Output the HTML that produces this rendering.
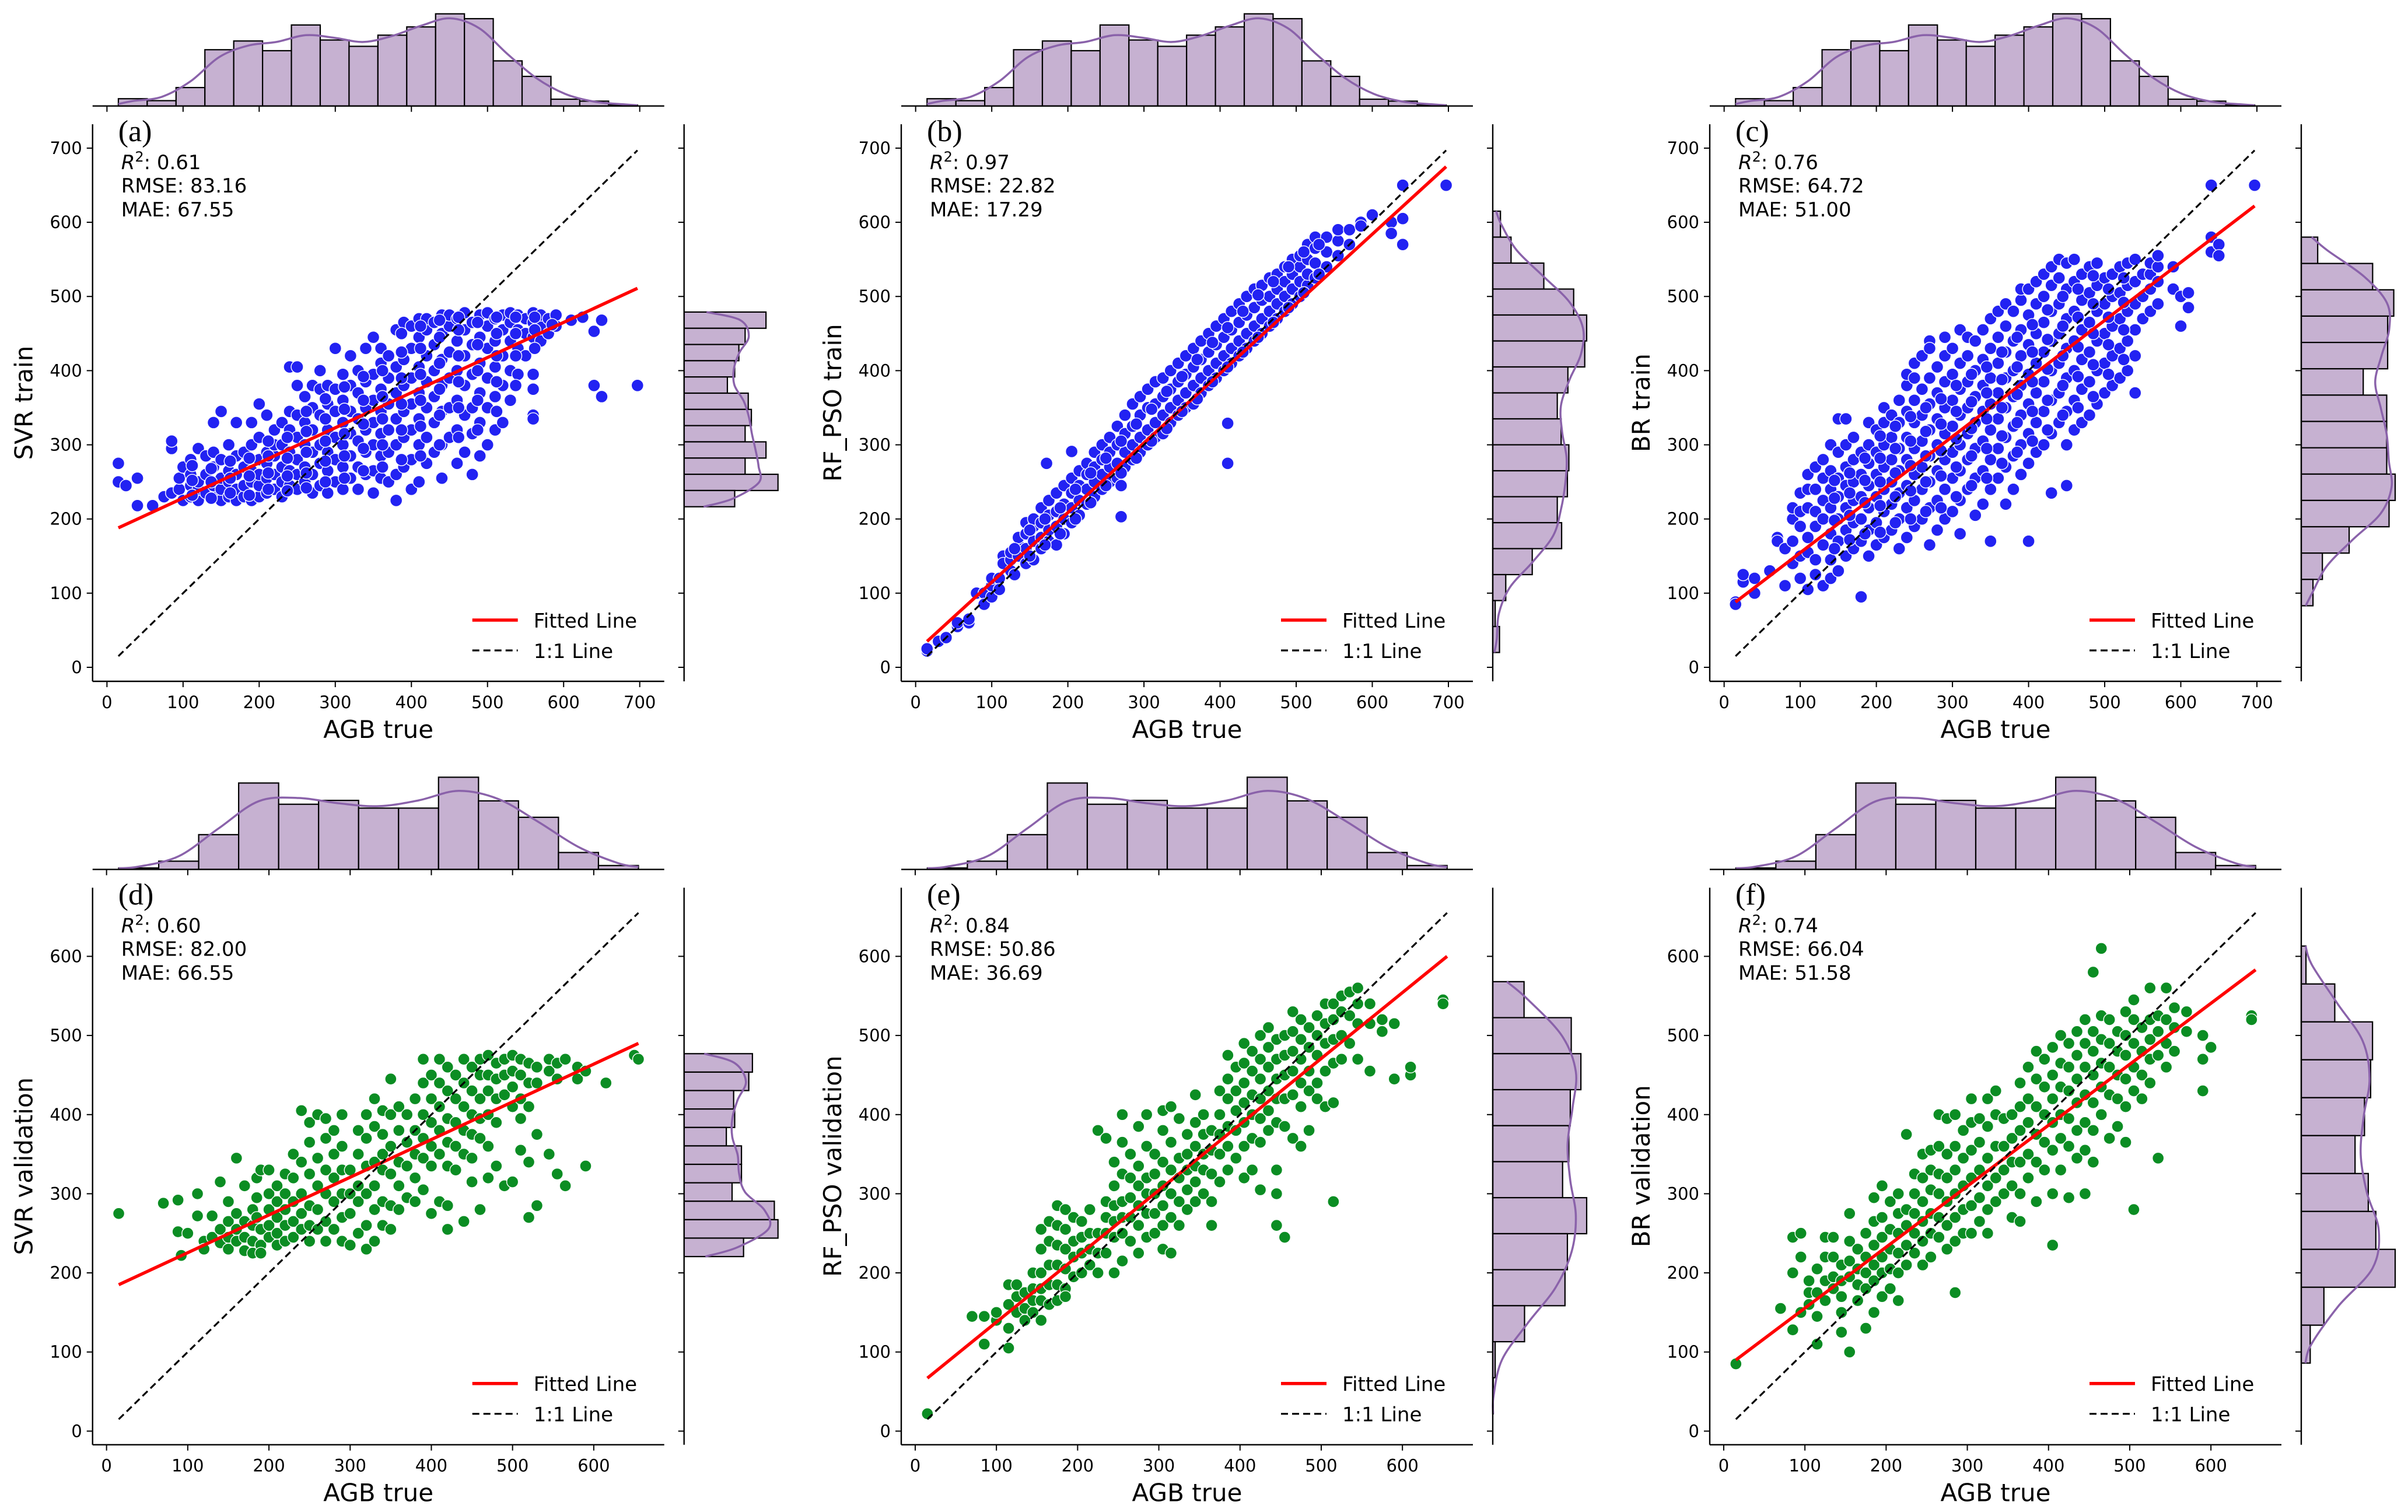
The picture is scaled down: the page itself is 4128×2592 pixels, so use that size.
<!DOCTYPE html>
<html><head><meta charset="utf-8"><style>
html,body{margin:0;padding:0;background:#fff;}
svg{display:block;}
text{font-family:"DejaVu Sans","Liberation Sans",sans-serif;fill:#000;}
</style></head><body>
<svg id="fig" xmlns="http://www.w3.org/2000/svg" width="4128" height="2592" viewBox="0 0 4128 2592"></svg>
<script>
// ---------- DATA ----------
const trainTicks=[0,100,200,300,400,500,600,700];
const validTicks=[0,100,200,300,400,500,600];
const trainRange=[15,697];
const validRange=[15,655];
const trainTopHist=[15,11,38,116,134,114,167,136,123,146,163,190,180,93,61,14,10,2];
const validTopHist=[3,17,72,179,135,143,127,127,191,142,108,35,8];
// right histograms (prediction), listed from TOP bin to BOTTOM bin
const histRightA=[157,117,105,97,83,123,129,117,157,117,180,97]; const rangeRightA=[216.5,479];
const histRightB=[16,38,106,168,195,191,156,134,142,158,155,134,143,82,27,5,14]; const rangeRightB=[20,615];
const histRightC=[35,152,197,184,184,132,182,182,182,200,187,102,45,25]; const rangeRightC=[83,580];
const histRightD=[131,124,95,97,81,110,110,92,173,180,114]; const rangeRightD=[220.6,477];
const histRightE=[65,163,183,161,158,145,195,155,150,66,5,1]; const rangeRightE=[22,568];
const histRightF=[10,71,151,147,134,114,142,158,199,48,19]; const rangeRightF=[86,613];
const fitA=[[15,188],[697,511]];
const fitB=[[15,35],[697,675]];
const fitC=[[15,88],[697,622]];
const fitD=[[15,185],[655,490]];
const fitE=[[15,67],[655,600]];
const fitF=[[15,90],[655,583]];
// scatter points: each row = [x, y1, y2, ...]
const ptsA=[[15,275,250],[25,245],[40,255,218],[60,218],[75,230],[85,235,295,305],[95,240,255],[100,270,225],[110,230,245,260,280],[120,225,240,250,295],[130,235,260,285],[140,230,245,270,290,330],[150,225,240,255,280,345],[160,230,250,265,300],[170,225,240,260,285,330],[180,230,245,270,290],[190,225,250,265,300,330],[200,230,245,260,280,310,355],[210,235,255,275,290,340],[220,240,260,285,300,320],[230,230,250,270,300,330],[240,245,265,290,320,345,405],[250,240,260,280,310,340,380,405],[260,250,270,300,330,365],[270,235,260,290,320,350,380],[280,245,275,300,340,375,400],[290,235,265,290,320,355,380],[300,250,280,310,345,375,430],[310,240,270,300,330,360,395],[320,255,285,315,345,380,420],[330,240,270,305,335,370,400],[340,260,290,320,350,385,430],[350,235,265,300,330,360,395,445],[360,255,285,315,345,375,410,430],[370,250,290,320,355,390,420],[380,225,260,300,335,370,405,455],[390,270,310,345,380,415,465],[400,240,280,320,355,390,430,460],[410,250,300,335,370,405,445,470],[420,275,310,350,385,420,455,470],[430,290,330,365,400,435,465],[440,255,300,345,380,415,450,475],[450,310,350,390,425,460,475],[460,275,320,360,400,440,470],[470,290,340,380,420,455,478],[480,260,315,350,395,435,465],[490,285,330,370,410,445,475],[500,300,350,390,430,460,478],[510,320,365,405,440,470],[520,330,380,420,455,475],[530,360,400,440,465,478],[540,395,430,455,475],[550,420,450,470],[560,340,335,375,395,445,465,478],[570,440,460,475],[580,450,470],[590,460,475],[610,468],[625,472],[640,453,380],[650,468,365],[697,380]];
const ptsA2=[[112,232,252,272],[137,228,250,268],[162,235,255,278],[187,232,258,282],[212,240,262,285,305],[237,238,258,282,310],[262,242,262,290,318,345],[287,250,278,305,335,362],[312,255,285,315,348,378],[337,265,295,328,360,392],[362,270,300,335,365,400],[387,280,320,355,390,425,450],[412,285,325,360,395,430,460],[437,300,340,375,410,445,468],[462,310,350,385,420,455,472],[487,320,360,400,435,465],[512,345,385,420,450,472],[537,380,420,450,472],[562,430,455,472],[585,462]];
const ptsB=[[15,22,25],[30,35],[40,40],[55,55,60],[70,60,65],[80,100],[90,100,85],[100,95,110,120],[110,120,105],[115,150,140],[125,145,155,130],[135,150,165,175],[145,140,160,180,195],[155,145,170,190,200],[165,160,175,195,215],[172,275],[175,170,185,205,225],[185,165,190,210,235],[195,180,200,220,245],[205,195,215,235,255,291],[215,205,225,245,265],[225,220,240,260,275],[235,230,250,270,290],[245,240,260,280,300],[255,250,270,290,310],[265,255,275,300,325],[270,245,203],[275,270,290,315,340],[285,280,300,325,355],[295,290,310,340,365],[305,300,320,350,375],[315,310,330,355,385],[325,315,340,365,390],[335,330,350,375,400],[345,340,360,385,410],[355,350,370,395,420],[365,355,380,405,430],[375,370,390,415,440],[385,380,400,425,450],[395,390,410,435,460],[405,400,420,445,470],[410,275,329],[415,410,430,455,480],[425,420,440,465,490],[435,430,450,475,500],[445,440,460,485,510],[455,450,470,495,515],[465,460,480,500,525],[475,470,490,510,530],[485,480,500,520,540],[495,490,510,530,550],[505,500,520,540,555],[515,515,530,550,570],[525,525,545,565,580],[540,540,560,580],[555,555,575,590],[570,570,590],[585,600,595],[600,610],[625,600,585],[640,650,605,570],[697,650]];
const ptsB2=[[130,125,160],[150,150,185],[170,165,200],[190,180,215],[210,200,240],[230,222,262],[250,245,282],[270,262,305],[290,282,328],[310,305,348],[330,322,372],[350,345,392],[370,362,415],[390,385,438],[410,405,458],[430,425,480],[450,445,502],[470,465,520],[490,485,540],[510,505,560],[530,530,570]];
const ptsC=[[15,88,85],[25,115,125],[40,120,100],[60,130],[70,175,170],[80,160,110],[90,170,200,215,140],[100,150,210,235,190,120],[110,105,175,215,240,260,155],[120,145,190,210,240,270,125],[130,165,200,225,255,280,110],[140,145,180,215,240,265,300,120],[150,130,170,200,230,255,290,335],[160,150,185,215,245,270,300,335],[170,160,195,225,250,280,310],[180,170,200,230,260,290,95],[190,150,185,215,245,275,300,330],[200,165,195,230,260,290,320],[210,175,210,240,270,300,330,350],[220,185,220,250,280,310,340],[230,160,200,235,265,295,330,360],[240,175,215,245,280,310,345,380,395],[250,190,225,260,295,330,360,390,410],[260,200,240,270,305,340,375,420],[270,165,215,250,285,320,355,390,440,430],[280,185,225,265,300,335,370,405],[290,200,240,280,315,350,385,420,445],[300,210,255,290,325,360,395,430],[310,180,225,265,300,340,375,410,455],[320,240,280,315,350,385,420,445],[330,205,255,295,330,365,400,440],[340,220,265,305,345,380,415,455],[350,170,240,280,320,355,390,430,470],[360,255,295,335,370,410,445,480],[370,220,270,310,350,390,425,460,490],[380,240,285,325,365,400,440,480],[390,260,300,340,380,420,455,495,510],[400,170,275,315,355,395,435,475,510],[410,290,330,370,410,450,490,520],[420,300,345,385,425,465,500,530],[430,235,315,360,400,440,480,515,540],[440,330,370,410,450,490,525,550],[450,245,300,345,390,430,470,510,545],[460,320,360,400,440,480,520,550],[470,330,375,415,455,495,530],[480,340,385,425,465,505,540],[490,355,400,440,480,515,545],[500,370,410,450,490,525],[510,380,420,460,500,530],[520,390,430,470,505,540],[530,400,440,480,515,545],[540,370,420,455,490,520,550],[550,470,500,530],[560,480,510,530,545],[570,490,520,540,555],[590,510,540],[600,460,500],[610,505,485],[640,650,580,560],[650,570,555],[697,650]];
const ptsC2=[[145,160,198,228,252],[165,172,205,235,262],[185,180,222,252,282],[205,182,218,250,282,312],[225,195,230,262,295,325],[245,200,238,272,305,338],[265,210,250,285,318,350],[285,215,258,292,328,362],[305,230,270,308,345,380],[325,245,285,322,358,395],[345,255,295,335,370,405],[365,275,312,350,388,425],[385,290,330,368,405,445],[405,305,345,385,425,462],[425,320,360,402,442,482],[445,340,380,420,460,500],[465,350,392,432,472,510],[485,365,408,450,490,528],[505,395,435,472,510],[525,415,455,492,525]];
const ptsD=[[15,275],[70,288],[88,292,252],[92,222],[100,250],[112,300,272],[120,240,230],[130,245,272],[140,315,255,238],[150,290,265,245,230],[160,345,275,255,240],[170,310,265,245,228],[180,280,260,240,225],[185,320,295,270],[190,330,255,235,225],[200,330,300,280,260,245],[210,310,290,270,250,235],[220,325,300,280,260,240],[230,350,320,290,265,245],[240,405,340,300,275,255],[250,390,365,325,285,260,240],[260,400,345,310,280,255],[270,395,370,330,300,265,240],[280,380,350,320,290,255],[290,400,360,330,300,270,240],[300,330,300,275,235],[310,380,350,310,290,250],[320,400,370,335,300,260,230],[330,420,385,340,310,280,240],[340,405,375,350,330,290,260],[350,445,400,360,325,285,255],[360,410,380,340,310,280],[370,400,365,335,295],[380,420,380,350,320,290],[390,470,440,400,370,345,305],[400,450,420,390,360,335,275],[410,470,440,410,380,350,290],[420,460,430,395,365,335,285,255],[430,450,420,390,360,330],[440,470,440,410,380,350,265],[450,460,430,400,375,345,315],[460,470,450,420,395,370,280],[470,475,450,430,400,360,320],[480,465,445,420,390,335],[490,470,450,425,310],[500,475,455,435,410,315],[510,470,450,420,355,395],[520,465,440,410,340,270],[530,460,440,375,285],[545,470,455,350],[555,465,445,325],[565,470,310],[580,460,445],[590,455,335],[615,440],[650,475],[655,470]];
const ptsE=[[15,22],[70,145],[85,145,110],[100,140,150],[115,185,160,130,105],[125,185,170,150],[135,175,155,140],[145,200,180,165,150],[155,255,230,200,180,165,140],[165,265,240,210,185,160],[175,285,260,235,210,185,165],[185,280,255,230,205,180,170],[195,270,240,220,195],[205,265,245,225,200],[215,280,250,230,210],[225,380,250,225,200],[235,370,290,270,250,225],[245,340,310,285,265,245,200],[255,400,365,325,290,270,250,215],[265,350,320,295,270,240],[275,385,335,310,285,260,225],[285,400,360,320,300,275,245],[295,350,325,300,275,250],[305,405,380,340,310,285,260,230],[315,410,365,330,300,270,225],[325,395,345,320,290,260],[335,375,350,330,305,280],[345,425,390,360,335,315,290],[355,400,375,350,330,300],[365,380,355,325,290,260],[375,430,400,375,350,315],[385,475,445,420,385,360,330],[395,460,430,405,380,345],[405,490,465,440,415,390,360,320],[415,480,455,425,400,370,330],[425,500,470,445,420,395,365,305],[435,510,485,460,430,405,380],[445,495,470,445,420,390,330,300,260],[455,500,475,450,420,385,245],[465,530,505,480,455,425,370],[475,520,495,470,440,410,360],[485,510,485,455,430,380],[495,525,500,475,440,420],[505,540,515,490,455,410],[515,540,520,495,465,290,415],[525,550,530,500,470],[535,555,525,490],[545,560,540,515,470],[560,540,455,515],[575,520,505],[590,515,445],[610,450,460],[650,545,540]];
const ptsF=[[15,85],[70,155],[85,245,200,128],[95,220,250,150],[105,175,190,160],[115,205,175,145,110],[125,245,220,190,165],[135,245,220,195,180],[145,210,190,170,150,125],[155,275,240,215,195,100],[165,230,205,185,165],[175,250,220,200,180,130],[185,295,265,235,210,190,150],[195,310,270,245,220,200,170],[205,290,255,230,205,180],[215,300,275,250,225,200,165],[225,375,280,260,235,210],[235,325,300,275,250,225],[245,350,320,290,265,240,210],[255,355,330,305,275,250,220],[265,400,360,325,300,270,245],[275,395,350,320,290,260,230],[285,400,360,330,300,270,240,175],[295,380,345,310,280,250],[305,420,390,355,320,285,250],[315,395,365,330,295,265],[325,420,385,345,310,280,250],[335,430,400,360,320,290],[345,395,360,330,300],[355,400,370,340,310,270],[365,440,410,380,340,300,265],[375,460,420,390,350,320],[385,480,445,410,375,340,290],[395,470,435,400,365,330],[405,485,450,420,390,355,300,235],[415,500,465,435,400,370,330],[425,490,460,430,395,360,295],[435,505,475,445,415,380,345],[445,520,490,460,425,390,355,300],[455,580,505,480,450,415,380,340],[465,610,525,495,465,435,400],[475,520,490,460,425,370],[485,505,480,450,420,385],[495,530,500,475,445,410,365],[505,545,520,490,460,430,280],[515,510,480,450,420],[525,560,520,495,470,440],[535,525,505,475,345],[545,560,520,490,460],[555,535,510,480],[570,530,505],[590,500,470,430],[600,485],[650,525,520]];

// ---------- LAYOUT ----------
const NS="http://www.w3.org/2000/svg";
const svg=document.getElementById('fig');
const colLeft=[158.7,1545,2931];
const rowTop=[213,1521.7];
const mainW=980, mainH=955;
const rowLim=[[-18.9,732.2],[-17.2,686.8]];
function mk(tag,attrs,parent){const e=document.createElementNS(NS,tag);for(const k in attrs)e.setAttribute(k,attrs[k]);(parent||svg).appendChild(e);return e;}

const panels=[
 {key:'a',col:0,row:0,pts:ptsA.concat(ptsA2),fit:fitA,rh:histRightA,rr:rangeRightA,color:'#2222f2',ylab:'SVR train',stats:['0.61','83.16','67.55']},
 {key:'b',col:1,row:0,pts:ptsB.concat(ptsB2),fit:fitB,rh:histRightB,rr:rangeRightB,color:'#2222f2',ylab:'RF_PSO train',stats:['0.97','22.82','17.29']},
 {key:'c',col:2,row:0,pts:ptsC.concat(ptsC2),fit:fitC,rh:histRightC,rr:rangeRightC,color:'#2222f2',ylab:'BR train',stats:['0.76','64.72','51.00']},
 {key:'d',col:0,row:1,pts:ptsD,fit:fitD,rh:histRightD,rr:rangeRightD,color:'#0b8d23',ylab:'SVR validation',stats:['0.60','82.00','66.55']},
 {key:'e',col:1,row:1,pts:ptsE,fit:fitE,rh:histRightE,rr:rangeRightE,color:'#0b8d23',ylab:'RF_PSO validation',stats:['0.84','50.86','36.69']},
 {key:'f',col:2,row:1,pts:ptsF,fit:fitF,rh:histRightF,rr:rangeRightF,color:'#0b8d23',ylab:'BR validation',stats:['0.74','66.04','51.58']}
];

function smooth(c){return c.map((v,i)=>0.25*(i>0?c[i-1]:0)+0.5*v+0.25*(i<c.length-1?c[i+1]:0));}
function catmull(p){let d=`M${p[0][0]},${p[0][1]}`;for(let i=0;i<p.length-1;i++){const p0=p[i-1]||p[i],p1=p[i],p2=p[i+1],p3=p[i+2]||p2;d+=` C${p1[0]+(p2[0]-p0[0])/6},${p1[1]+(p2[1]-p0[1])/6} ${p2[0]-(p3[0]-p1[0])/6},${p2[1]-(p3[1]-p1[1])/6} ${p2[0]},${p2[1]}`;}return d;}

panels.forEach(P=>{
 const L=colLeft[P.col], T=rowTop[P.row], R=L+mainW, B=T+mainH;
 const lim=rowLim[P.row];
 const ticks=P.row===0?trainTicks:validTicks;
 const topHist=P.row===0?trainTopHist:validTopHist;
 const xr=P.row===0?trainRange:validRange;
 const sx=v=>L+(v-lim[0])/(lim[1]-lim[0])*mainW;
 const sy=v=>B-(v-lim[0])/(lim[1]-lim[0])*mainH;
 const g=mk('g',{});
 
 

 const tg=mk('g',{},g);
 
 
 const base=T-31.3, maxH=158, tmax=Math.max(...topHist);
 const bw=(xr[1]-xr[0])/topHist.length;
 topHist.forEach((c,i)=>{
  const x0=sx(xr[0]+i*bw), x1=sx(xr[0]+(i+1)*bw), h=c/tmax*maxH;
  const r=mk('rect',{x:x0,y:base-h,width:x1-x0,height:h,fill:'#c6b1d1',stroke:'#000','stroke-width':2.2},tg);
  
  
 });
 const ts=smooth(topHist);
 const tp=[[sx(xr[0]),base-ts[0]*0.4/tmax*maxH]];
 ts.forEach((v,i)=>tp.push([sx(xr[0]+(i+0.5)*bw),base-v/tmax*maxH]));
 tp.push([sx(xr[1]),base-ts[ts.length-1]*0.4/tmax*maxH]);
 const tk=mk('path',{d:catmull(tp),fill:'none',stroke:'#8a62aa','stroke-width':3.5},tg);
 
 
 mk('line',{x1:L,x2:R,y1:base,y2:base,stroke:'#000','stroke-width':2.4},tg);
 ticks.forEach(t=>mk('line',{x1:sx(t),x2:sx(t),y1:base,y2:base+10,stroke:'#000','stroke-width':2},tg));

 const rg=mk('g',{},g);
 
 
 const rx=L+1014, maxW=161, rmax=Math.max(...P.rh);
 const rbh=(P.rr[1]-P.rr[0])/P.rh.length;
 P.rh.forEach((c,i)=>{
  const ytop=P.rr[1]-i*rbh, ybot=ytop-rbh, w=c/rmax*maxW;
  const r=mk('rect',{x:rx,y:sy(ytop),width:w,height:sy(ybot)-sy(ytop),fill:'#c6b1d1',stroke:'#000','stroke-width':2.2},rg);
  
  
 });
 const rs=smooth(P.rh);
 const rp=[[rx+rs[0]*0.4/rmax*maxW,sy(P.rr[1])]];
 rs.forEach((v,i)=>rp.push([rx+v/rmax*maxW,sy(P.rr[1]-(i+0.5)*rbh)]));
 rp.push([rx+rs[rs.length-1]*0.4/rmax*maxW,sy(P.rr[0])]);
 const rk=mk('path',{d:catmull(rp),fill:'none',stroke:'#8a62aa','stroke-width':3.5},rg);
 
 
 mk('line',{x1:rx,x2:rx,y1:T,y2:B,stroke:'#000','stroke-width':2.4},rg);
 ticks.forEach(t=>mk('line',{x1:rx-10,x2:rx,y1:sy(t),y2:sy(t),stroke:'#000','stroke-width':2},rg));

 const sg=mk('g',{},g);
 
 
 const rad=P.row===0?10.5:10;
 P.pts.forEach(row=>{
  for(let j=1;j<row.length;j++){
   const c=mk('circle',{cx:sx(row[0]),cy:sy(row[j]),r:rad,fill:P.color,stroke:'#fff','stroke-width':1.4},sg);
   
   
  }
 });
 const fl=mk('line',{x1:sx(P.fit[0][0]),y1:sy(P.fit[0][1]),x2:sx(P.fit[1][0]),y2:sy(P.fit[1][1]),stroke:'#ff0000','stroke-width':5.5},g);
 
 
 const ol=mk('line',{x1:sx(xr[0]),y1:sy(xr[0]),x2:sx(xr[1]),y2:sy(xr[1]),stroke:'#000','stroke-width':3.2,'stroke-dasharray':'12,7'},g);
 
 

 const ax=mk('g',{},g);
 
 
 mk('line',{x1:L,x2:L,y1:T,y2:B,stroke:'#000','stroke-width':2.4},ax);
 mk('line',{x1:L,x2:R,y1:B,y2:B,stroke:'#000','stroke-width':2.4},ax);
 ticks.forEach(t=>{
  mk('line',{x1:sx(t),x2:sx(t),y1:B,y2:B+10,stroke:'#000','stroke-width':2},ax);
  const xt=mk('text',{x:sx(t),y:B+46,'font-size':29,'text-anchor':'middle'},ax);
  xt.textContent=t;
  
  
  mk('line',{x1:L-10,x2:L,y1:sy(t),y2:sy(t),stroke:'#000','stroke-width':2},ax);
  const yt=mk('text',{x:L-18,y:sy(t)+10,'font-size':29,'text-anchor':'end'},ax);
  yt.textContent=t;
  
  
 });
 const xl=mk('text',{x:(L+R)/2,y:B+97,'font-size':42,'text-anchor':'middle'},ax);
 xl.textContent='AGB true';
 
 
 const yc=(T+B)/2;
 const yl=mk('text',{x:L-103,y:yc,'font-size':42,'text-anchor':'middle',transform:`rotate(-90 ${L-103} ${yc})`},ax);
 yl.textContent=P.ylab;
 
 

 const pl=mk('text',{x:L+44,y:T+29,'font-size':52,style:'font-family:"Liberation Serif",serif'},g);
 pl.textContent='('+P.key+')';
 
 
 const st=mk('text',{x:L+49,y:T+77,'font-size':34},g);
 
 
 const ti=mk('tspan',{'font-style':'italic'},st); ti.textContent='R';
 const ts2=mk('tspan',{'font-size':24,dy:-13},st); ts2.textContent='2';
 const ts3=mk('tspan',{dy:13},st); ts3.textContent=': '+P.stats[0];
 const rm=mk('text',{x:L+49,y:T+117,'font-size':34},g);
 rm.textContent='RMSE: '+P.stats[1];
 
 
 const ma=mk('text',{x:L+49,y:T+158,'font-size':34},g);
 ma.textContent='MAE: '+P.stats[2];
 
 

 const lg=mk('g',{},g);
 
 
 mk('line',{x1:R-329,x2:R-251,y1:B-105,y2:B-105,stroke:'#ff0000','stroke-width':5.5},lg);
 const l1=mk('text',{x:R-224,y:B-92,'font-size':34},lg);
 l1.textContent='Fitted Line';
 
 
 mk('line',{x1:R-329,x2:R-251,y1:B-53,y2:B-53,stroke:'#000','stroke-width':3.2,'stroke-dasharray':'12,7'},lg);
 const l2=mk('text',{x:R-224,y:B-40,'font-size':34},lg);
 l2.textContent='1:1 Line';
 
 
});
</script>
</body></html>
